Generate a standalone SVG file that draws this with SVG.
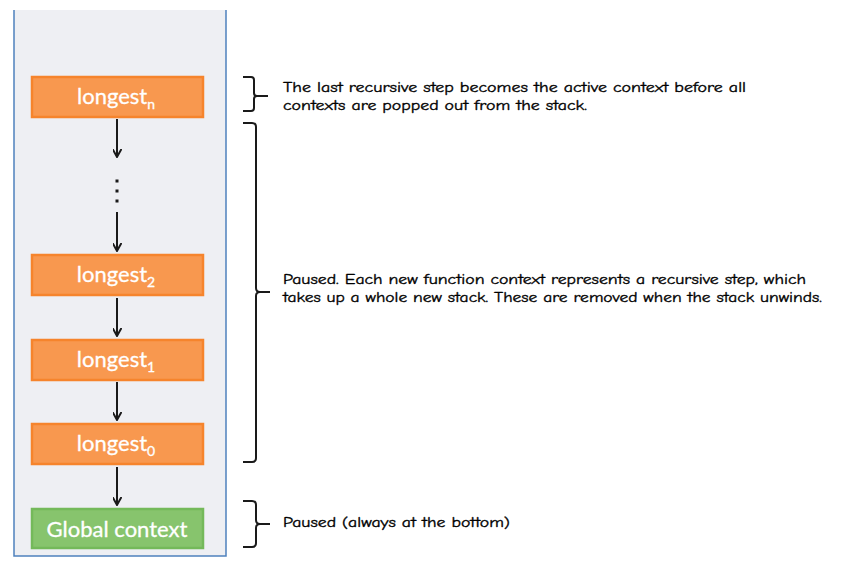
<svg xmlns="http://www.w3.org/2000/svg" width="841" height="571" viewBox="0 0 841 571">
<style>
.box-o{fill:#f8984f;stroke:#f6842c;stroke-width:2.5}
.box-g{fill:#87c46d;stroke:#74b95a;stroke-width:2.5}
.lbl{font-family:Lato,"Open Sans",sans-serif;font-size:22px;fill:#ffffff;stroke:#ffffff;stroke-width:0.3;text-anchor:middle}
.sub{font-size:14px}
.note{font-family:"Comic Sans MS","Comic Neue","Noto Sans","DejaVu Sans",sans-serif;font-size:14.5px;fill:#000;stroke:#000;stroke-width:0.35}
.brace{fill:none;stroke:#1a1a1a;stroke-width:2;stroke-linejoin:round}
.arrow{stroke:#1a1a1a;stroke-width:2;fill:none}
</style>
<defs>
<marker id="ah" viewBox="0 0 10 10" refX="9" refY="5" markerWidth="9" markerHeight="9" markerUnits="userSpaceOnUse" orient="auto">
<path d="M0,0 L9,5 L0,10" fill="none" stroke="#1a1a1a" stroke-width="2.2"/>
</marker>
</defs>
<rect width="841" height="571" fill="#ffffff"/>
<g id="panel">
<rect x="14" y="10" width="212" height="546" fill="#eeeff3"/>
<path d="M14,10 V556 H226 V10" fill="none" stroke="#4f81bd" stroke-width="1.5"/>
</g>
<g id="connectors">
<line class="arrow" x1="117" y1="119" x2="117" y2="157" marker-end="url(#ah)"/>
<line class="arrow" x1="117" y1="212" x2="117" y2="251" marker-end="url(#ah)"/>
<line class="arrow" x1="117" y1="298" x2="117" y2="336" marker-end="url(#ah)"/>
<line class="arrow" x1="117" y1="382" x2="117" y2="420" marker-end="url(#ah)"/>
<line class="arrow" x1="117" y1="467" x2="117" y2="505" marker-end="url(#ah)"/>
<g fill="#1a1a1a"><rect x="115.5" y="179.5" width="3" height="3"/><rect x="115.5" y="189.5" width="3" height="3"/><rect x="115.5" y="199.5" width="3" height="3"/></g>
</g>
<g id="node-longest-n">
<rect class="box-o" x="32" y="77" width="171" height="40"/>
<text class="lbl" x="116" y="104">longest<tspan class="sub" dy="5">n</tspan></text>
</g>
<g id="node-longest-2">
<rect class="box-o" x="32" y="255" width="171" height="40"/>
<text class="lbl" x="116" y="282">longest<tspan class="sub" dy="5">2</tspan></text>
</g>
<g id="node-longest-1">
<rect class="box-o" x="32" y="340" width="171" height="40"/>
<text class="lbl" x="116" y="367">longest<tspan class="sub" dy="5">1</tspan></text>
</g>
<g id="node-longest-0">
<rect class="box-o" x="32" y="424" width="171" height="40"/>
<text class="lbl" x="116" y="451">longest<tspan class="sub" dy="5">0</tspan></text>
</g>
<g id="node-global">
<rect class="box-g" x="32" y="509" width="171" height="39"/>
<text class="lbl" x="117" y="537">Global context</text>
</g>
<g id="note-1">
<path class="brace" d="M243,77 H251 Q254,77 254,80 V93 Q254,96 257,96 H268 M257,96 Q254,96 254,99 V108 Q254,111 251,111 H243"/>
<text class="note" x="283" y="92" textLength="463" lengthAdjust="spacingAndGlyphs">The last recursive step becomes the active context before all</text>
<text class="note" x="283" y="110" textLength="304" lengthAdjust="spacingAndGlyphs">contexts are popped out from the stack.</text>
</g>
<g id="note-2">
<path class="brace" d="M243,123 H252 Q256,123 256,127 V288 Q256,292 260,292 H270 M260,292 Q256,292 256,296 V458 Q256,462 252,462 H243"/>
<text class="note" x="283" y="284" textLength="523" lengthAdjust="spacingAndGlyphs">Paused. Each new function context represents a recursive step, which</text>
<text class="note" x="283" y="302" textLength="539" lengthAdjust="spacingAndGlyphs">takes up a whole new stack. These are removed when the stack unwinds.</text>
</g>
<g id="note-3">
<path class="brace" d="M243,501 H252 Q256,501 256,505 V520 Q256,524 260,524 H270 M260,524 Q256,524 256,528 V543 Q256,547 252,547 H243"/>
<text class="note" x="283" y="527" textLength="227" lengthAdjust="spacingAndGlyphs">Paused (always at the bottom)</text>
</g>
</svg>
